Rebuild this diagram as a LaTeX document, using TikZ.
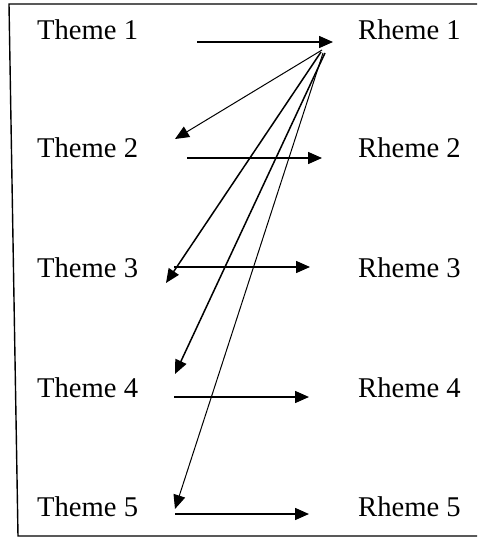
\documentclass[tikz,border=0pt]{standalone}
\usepackage{fontspec}
\setmainfont{Liberation Serif}
\usetikzlibrary{arrows.meta}
\begin{document}
\begin{tikzpicture}[x=1pt,y=-1pt,
  lbl/.style={anchor=base west,inner sep=0pt,font=\fontsize{28.6}{34}\selectfont},
  arr/.style={line width=1.5pt,-{Triangle[length=14pt,width=12pt]}},
  thinarr/.style={line width=1pt,-{Triangle[length=14pt,width=12pt]}},
  frame/.style={line width=1.4pt}]
\useasboundingbox (0,0) rectangle (477,546);
\draw[frame] (477,4) -- (9,4) -- (18,536) -- (477,536);
% labels
\node[lbl] (t1) at (37,39) {Theme 1};
\node[lbl] (t2) at (37,157) {Theme 2};
\node[lbl] (t3) at (37,277) {Theme 3};
\node[lbl] (t4) at (37,397) {Theme 4};
\node[lbl] (t5) at (37,516) {Theme 5};
\node[lbl] (r1) at (358,39) {Rheme 1};
\node[lbl] (r2) at (358,157) {Rheme 2};
\node[lbl] (r3) at (358,277) {Rheme 3};
\node[lbl] (r4) at (358,397) {Rheme 4};
\node[lbl] (r5) at (358,516) {Rheme 5};
% horizontal arrow ends
\coordinate (h1s) at (197,42); \coordinate (h1e) at (333,42);
\coordinate (h2s) at (187,158); \coordinate (h2e) at (322,158);
\coordinate (h3s) at (174,267); \coordinate (h3e) at (310,267);
\coordinate (h4s) at (174,397); \coordinate (h4e) at (309,397);
\coordinate (h5s) at (175,514); \coordinate (h5e) at (309,514);
\draw[arr] (h1s) -- (h1e);
\draw[arr] (h2s) -- (h2e);
\draw[arr] (h3s) -- (h3e);
\draw[arr] (h4s) -- (h4e);
\draw[arr] (h5s) -- (h5e);
% diagonal arrows
\coordinate (o2) at (322,50); \coordinate (d2) at (175,139);
\coordinate (o3) at (321,52); \coordinate (d3) at (166,283);
\coordinate (o4) at (325,53); \coordinate (d4) at (175,374);
\coordinate (o5) at (323,53); \coordinate (d5) at (175,509);
\draw[thinarr] (o2) -- (d2);
\draw[arr] (o3) -- (d3);
\draw[arr] (o4) -- (d4);
\draw[thinarr] (o5) -- (d5);
\end{tikzpicture}
\end{document}
